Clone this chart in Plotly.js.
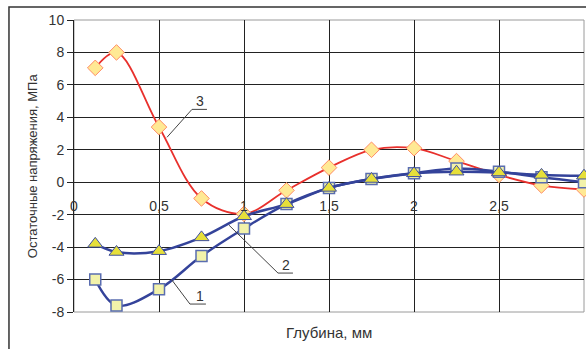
<!DOCTYPE html>
<html>
<head>
<meta charset="utf-8">
<script src="https://cdn.plot.ly/plotly-3.0.1.min.js"></script>
<style>
  html, body { margin: 0; padding: 0; background: #fff; }
  #chart { width: 586px; height: 349px; }
</style>
</head>
<body>
<div id="chart"></div>
<script>
// Depth of the layer below the surface, mm
const depth = [0.125, 0.25, 0.5, 0.75, 1.0, 1.25, 1.5, 1.75, 2.0, 2.25, 2.5, 2.75, 3.0];

// Residual stress for each treatment mode, MPa
const stress1 = [-6.0, -7.6, -6.6, -4.55, -2.85, -1.35, -0.35, 0.2, 0.55, 0.85, 0.65, 0.3, 0.0];
const stress2 = [-3.8, -4.3, -4.25, -3.4, -2.1, -1.35, -0.35, 0.2, 0.55, 0.65, 0.6, 0.45, 0.4];
const stress3 = [7.05, 8.0, 3.4, -1.0, -1.95, -0.5, 0.9, 2.0, 2.1, 1.3, 0.45, -0.2, -0.45];

// Axis ticks
const xTickVals = [0, 0.5, 1, 1.5, 2, 2.5, 3];
const xTickText = ['0', '0,5', '1', '1,5', '2', '2,5', '3'];
const yTickVals = [-8, -6, -4, -2, 0, 2, 4, 6, 8, 10];
const yTickText = ['-8', '-6', '-4', '-2', '0', '2', '4', '6', '8', '10'];

// Curve numbers with their callout lines: [start x, start y, elbow x, elbow y, shelf end x, label x, label y]
const curveLabels = ['1', '2', '3'];
const callouts = [
  [0.576, -6.03, 0.682, -7.51, 0.776, 0.741, -7.0],
  [0.912, -2.65, 1.200, -5.60, 1.288, 1.247, -5.1],
  [0.547, 2.77, 0.694, 4.49, 0.782, 0.741, 4.98]
];

const FONT = 'Liberation Sans, Arial, sans-serif';
const INK = '#333333';
const GRID = '#222222';
const NAVY = '#34439a';

const traces = [
  {
    x: depth, y: stress3, type: 'scatter', mode: 'lines+markers', name: '3',
    line: { color: '#e8302c', width: 1.8, shape: 'spline', smoothing: 1 },
    marker: { symbol: 'diamond', size: 12, color: '#ffe994', line: { color: '#ff8c66', width: 1 } },
    cliponaxis: false
  },
  {
    x: depth, y: stress1, type: 'scatter', mode: 'lines+markers', name: '1',
    line: { color: NAVY, width: 2.5, shape: 'spline', smoothing: 1 },
    marker: { symbol: 'square', size: 11, color: '#f2f2aa', line: { color: '#5a6db0', width: 1.5 } },
    cliponaxis: false
  },
  {
    x: depth, y: stress2, type: 'scatter', mode: 'lines+markers', name: '2',
    line: { color: NAVY, width: 2.5, shape: 'spline', smoothing: 1 },
    marker: { symbol: 'triangle-up', size: 13, color: '#e6df3a', line: { color: '#3f4fa0', width: 1 } },
    cliponaxis: false
  }
];

const shapes = [
  // outer chart frame
  { type: 'rect', xref: 'paper', yref: 'paper', x0: -0.1275, y0: -0.2, x1: 1.05, y1: 1.0445,
    line: { color: INK, width: 1.5 }, fillcolor: 'rgba(0,0,0,0)' },
  // plot area border
  { type: 'rect', xref: 'paper', yref: 'paper', x0: 0, y0: 0, x1: 1, y1: 1, layer: 'between',
    line: { color: '#9a9a9a', width: 1 }, fillcolor: 'rgba(0,0,0,0)' }
];

const annotations = [
  { xref: 'paper', yref: 'paper', x: 0.5, y: -0.0685, text: 'Глубина, мм', showarrow: false,
    xanchor: 'center', yanchor: 'middle', font: { family: FONT, size: 15, color: INK } },
  { xref: 'paper', yref: 'paper', x: -0.082, y: 0.5, text: 'Остаточные напряжения, МПа', showarrow: false,
    textangle: -90, xanchor: 'center', yanchor: 'middle', font: { family: FONT, size: 13, color: INK } }
];

callouts.forEach((c, i) => {
  shapes.push({ type: 'line', xref: 'x', yref: 'y', x0: c[0], y0: c[1], x1: c[2], y1: c[3],
    line: { color: '#444', width: 1 } });
  shapes.push({ type: 'line', xref: 'x', yref: 'y', x0: c[2], y0: c[3], x1: c[4], y1: c[3],
    line: { color: '#444', width: 1 } });
  annotations.push({ xref: 'x', yref: 'y', x: c[5], y: c[6], text: curveLabels[i], showarrow: false,
    xanchor: 'center', yanchor: 'middle', font: { family: FONT, size: 14, color: INK } });
});

const layout = {
  width: 586, height: 349,
  margin: { l: 74, r: 2, t: 20, b: 37, pad: 0 },
  paper_bgcolor: '#ffffff', plot_bgcolor: '#ffffff',
  showlegend: false,
  separators: ', ',
  font: { family: FONT, size: 14, color: INK },
  xaxis: {
    range: [0, 3], tickvals: xTickVals, ticktext: xTickText,
    anchor: 'free', position: 8 / 18,
    showline: false, zeroline: false,
    showgrid: true, gridcolor: GRID, gridwidth: 1,
    ticks: '', ticklabelstandoff: 14,
    tickfont: { family: FONT, size: 14, color: INK }
  },
  yaxis: {
    range: [-8, 10], tickvals: yTickVals, ticktext: yTickText,
    showline: true, linecolor: GRID, linewidth: 1,
    zeroline: true, zerolinecolor: GRID, zerolinewidth: 1,
    showgrid: true, gridcolor: GRID, gridwidth: 1,
    ticks: 'outside', ticklen: 6, tickcolor: GRID,
    tickfont: { family: FONT, size: 14, color: INK }
  },
  shapes: shapes,
  annotations: annotations
};

Plotly.newPlot('chart', traces, layout, { displayModeBar: false, staticPlot: true });
</script>
</body>
</html>
